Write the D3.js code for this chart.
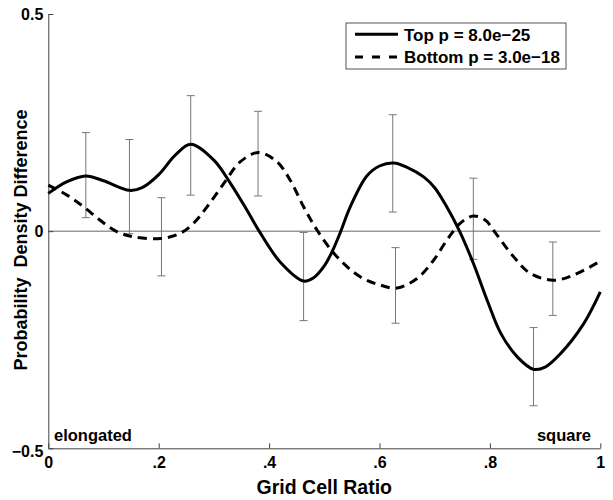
<!DOCTYPE html>
<html>
<head>
<meta charset="utf-8">
<script src="https://cdn.jsdelivr.net/npm/d3@7"></script>
<style>
  html, body { margin: 0; padding: 0; background: #fff; }
  svg { display: block; }
  text { font-family: "Liberation Sans", Arial, Helvetica, sans-serif; font-weight: bold; fill: #000; }
</style>
</head>
<body>
<svg id="chart" width="613" height="500"></svg>
<script>
// ---- Data ----
const topX = [0, 0.034, 0.068, 0.10, 0.147, 0.17, 0.20, 0.23, 0.258, 0.2995, 0.33, 0.36, 0.382, 0.42, 0.4625, 0.48, 0.50, 0.515, 0.529, 0.547, 0.577, 0.60, 0.6256, 0.65, 0.68, 0.70, 0.72, 0.745, 0.77, 0.795, 0.82, 0.85, 0.879, 0.90, 0.928, 0.97, 1.0];
const topY = [0.087, 0.114, 0.127, 0.116, 0.094, 0.100, 0.130, 0.175, 0.200, 0.164, 0.110, 0.048, 0.000, -0.071, -0.115, -0.108, -0.080, -0.045, -0.003, 0.056, 0.127, 0.150, 0.157, 0.147, 0.125, 0.100, 0.060, 0.000, -0.074, -0.159, -0.236, -0.290, -0.318, -0.313, -0.282, -0.213, -0.140];

const botX = [0, 0.034, 0.064, 0.094, 0.124, 0.155, 0.203, 0.239, 0.263, 0.2875, 0.318, 0.348, 0.381, 0.414, 0.438, 0.4625, 0.487, 0.523, 0.565, 0.601, 0.632, 0.668, 0.698, 0.722, 0.746, 0.770, 0.792, 0.81, 0.843, 0.873, 0.915, 0.952, 1.0];
const botY = [0.106, 0.083, 0.056, 0.025, -0.001, -0.013, -0.017, -0.005, 0.018, 0.056, 0.110, 0.160, 0.181, 0.160, 0.118, 0.056, 0.002, -0.059, -0.105, -0.124, -0.131, -0.109, -0.067, -0.021, 0.018, 0.035, 0.025, -0.004, -0.059, -0.097, -0.113, -0.101, -0.069];

const topErrX  = [0.068, 0.147, 0.258, 0.4625, 0.624, 0.879];
const topErrHi = [0.227, 0.211, 0.312, -0.003, 0.268, -0.222];
const topErrLo = [0.031, -0.006, 0.083, -0.206, 0.044, -0.402];

const botErrX  = [0.205, 0.380, 0.629, 0.770, 0.914];
const botErrHi = [0.077, 0.276, -0.038, 0.122, -0.025];
const botErrLo = [-0.103, 0.081, -0.212, -0.065, -0.194];

const xTickValues = [0, 0.2, 0.4, 0.6, 0.8, 1];
const xTickLabels = ["0", ".2", ".4", ".6", ".8", "1"];
const yTickValues = [0.5, 0, -0.5];
const yTickLabels = ["0.5", "0", "\u22120.5"];

const seriesNames = ["Top p = 8.0e\u221225", "Bottom p = 3.0e\u221218"];
const xLabel = "Grid Cell Ratio";
const yLabel = "Probability  Density Difference";
const leftNote = "elongated";
const rightNote = "square";

// ---- Layout ----
const svg = d3.select("#chart");
const x = d3.scaleLinear().domain([0, 1]).range([48.3, 600.3]);
const y = d3.scaleLinear().domain([-0.5, 0.5]).range([448.3, 14]);

const axisColor = "#444";

// zero line
svg.append("line")
  .attr("x1", x(0)).attr("x2", x(1))
  .attr("y1", y(0)).attr("y2", y(0))
  .attr("stroke", "#999").attr("stroke-width", 1.5);

// x axis
const xAxis = svg.append("g")
  .attr("transform", `translate(0,${y(-0.5)})`)
  .call(d3.axisBottom(x).tickValues(xTickValues)
    .tickFormat((d, i) => xTickLabels[i])
    .tickSizeInner(-5).tickSizeOuter(0).tickPadding(8.6));
xAxis.select(".domain").attr("stroke", axisColor);
xAxis.selectAll(".tick line").attr("stroke", axisColor);
xAxis.selectAll(".tick text")
  .attr("font-size", 16).attr("fill", "#000")
  .style("font-family", '"Liberation Sans", Arial, sans-serif').style("font-weight", "bold");

// y axis
const yAxis = svg.append("g")
  .attr("transform", `translate(${x(0)},0)`)
  .call(d3.axisLeft(y).tickValues(yTickValues)
    .tickFormat((d, i) => yTickLabels[i])
    .tickSizeInner(-5).tickSizeOuter(0).tickPadding(5));
yAxis.select(".domain").attr("stroke", axisColor);
yAxis.selectAll(".tick line").attr("stroke", axisColor);
yAxis.selectAll(".tick text")
  .attr("font-size", 16).attr("fill", "#000")
  .style("font-family", '"Liberation Sans", Arial, sans-serif').style("font-weight", "bold")
  .attr("dy", d => d === -0.5 ? "0.5em" : "0.34em");

// error bars
function drawErr(xs, his, los) {
  const g = svg.append("g").attr("stroke", "#777").attr("stroke-width", 1);
  xs.forEach((xv, i) => {
    const cx = x(xv);
    g.append("line").attr("x1", cx).attr("x2", cx).attr("y1", y(his[i])).attr("y2", y(los[i]));
    g.append("line").attr("x1", cx - 4).attr("x2", cx + 4).attr("y1", y(his[i])).attr("y2", y(his[i]));
    g.append("line").attr("x1", cx - 4).attr("x2", cx + 4).attr("y1", y(los[i])).attr("y2", y(los[i]));
  });
}
drawErr(topErrX, topErrHi, topErrLo);
drawErr(botErrX, botErrHi, botErrLo);

// curves
const line = d3.line().x(d => x(d[0])).y(d => y(d[1])).curve(d3.curveCatmullRom.alpha(0.5));
svg.append("path")
  .datum(botX.map((v, i) => [v, botY[i]]))
  .attr("d", line).attr("fill", "none")
  .attr("stroke", "#000").attr("stroke-width", 3).attr("stroke-dasharray", "9,6");
svg.append("path")
  .datum(topX.map((v, i) => [v, topY[i]]))
  .attr("d", line).attr("fill", "none")
  .attr("stroke", "#000").attr("stroke-width", 3);

// legend
const lg = svg.append("g").attr("transform", "translate(346,23)");
lg.append("rect").attr("width", 220).attr("height", 46)
  .attr("fill", "#fff").attr("stroke", "#555").attr("stroke-width", 1);
const rows = [{dash: null, dy: 11.3}, {dash: "8,9", dy: 34}];
rows.forEach((r, i) => {
  const ln = lg.append("line").attr("x1", 9).attr("x2", 52)
    .attr("y1", r.dy).attr("y2", r.dy)
    .attr("stroke", "#000").attr("stroke-width", 3);
  if (r.dash) ln.attr("stroke-dasharray", r.dash);
  lg.append("text").attr("x", 58).attr("y", r.dy + 6.2)
    .attr("font-size", 17).text(seriesNames[i]);
});

// notes
svg.append("text").attr("x", 54).attr("y", 441).attr("font-size", 16.5).text(leftNote);
svg.append("text").attr("x", 591).attr("y", 441).attr("font-size", 16.5)
  .attr("text-anchor", "end").text(rightNote);

// axis labels
svg.append("text").attr("x", (x(0) + x(1)) / 2).attr("y", 494)
  .attr("font-size", 19.5).attr("text-anchor", "middle").text(xLabel);
svg.append("text")
  .attr("transform", "translate(27,240) rotate(-90)")
  .attr("font-size", 18).attr("text-anchor", "middle")
  .style("white-space", "pre").text(yLabel);
</script>
</body>
</html>
